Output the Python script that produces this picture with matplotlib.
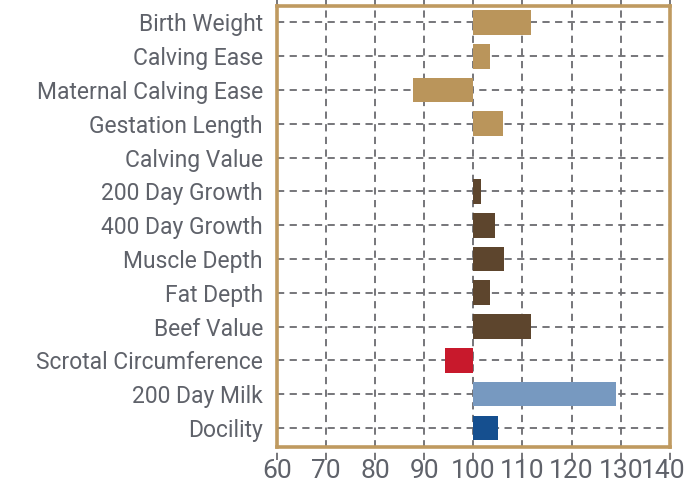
import matplotlib
matplotlib.use("Agg")
import matplotlib.pyplot as plt
from matplotlib import font_manager
from matplotlib.transforms import ScaledTranslation

# EPD traits (index values, 100 = breed average)
traits = ["Birth Weight", "Calving Ease", "Maternal Calving Ease", "Gestation Length",
          "Calving Value", "200 Day Growth", "400 Day Growth", "Muscle Depth",
          "Fat Depth", "Beef Value", "Scrotal Circumference", "200 Day Milk", "Docility"]
values = [111.7, 103.4, 87.7, 106.0, 100.0, 101.6, 104.5, 106.3, 103.3, 111.8, 94.3, 129.0, 105.1]
groups = ["calving", "calving", "calving", "calving", "calving", "growth", "growth",
          "growth", "growth", "growth", "fertility", "milk", "temperament"]
xticks = [60, 70, 80, 90, 100, 110, 120, 130, 140]

group_colors = {"calving": "#BA955B", "growth": "#5D452D", "fertility": "#C8192C",
                "milk": "#7799C0", "temperament": "#154F8F"}

names = {f.name for f in font_manager.fontManager.ttflist}
font = "Liberation Sans Narrow" if "Liberation Sans Narrow" in names else "Roboto"
plt.rcParams["font.family"] = [font, "DejaVu Sans"]

fig = plt.figure(figsize=(6.87, 4.90), dpi=100)
ax = fig.add_axes([0.403, 0.088, 0.572, 0.900])

base = 100
ypos = list(range(len(traits)))
for y, v, g in zip(ypos, values, groups):
    if v == base:
        continue
    ax.barh(y, v - base, left=base, height=0.73, color=group_colors[g], zorder=3)

ax.set_xlim(60, 140)
ax.set_ylim(len(traits) - 1 + 0.56, -0.49)
ax.set_xticks(xticks)
ax.set_yticks(ypos)
ax.set_yticklabels(traits)
ax.tick_params(axis="y", length=0, pad=10, labelsize=16.5, labelcolor="#5F626A")
ax.tick_params(axis="x", length=0, pad=9, labelsize=19, labelcolor="#5F626A")

# nudge the last tick label so it stays inside the image
last = ax.get_xticklabels()[-1]
last.set_transform(last.get_transform() + ScaledTranslation(-5 / 72, 0, fig.dpi_scale_trans))

grid_kw = dict(color="#6B6B70", linestyle=(0, (4, 3)), linewidth=1.3, zorder=1)
ax.grid(axis="y", **grid_kw)
# vertical grid lines run a little past the frame
ax.vlines(xticks, -0.03, 1.02, transform=ax.get_xaxis_transform(), clip_on=False, **grid_kw)

for s in ax.spines.values():
    s.set_color("#BF9A60")
    s.set_linewidth(2.6)
    s.set_zorder(4)

fig.savefig("out.png", dpi=100)
